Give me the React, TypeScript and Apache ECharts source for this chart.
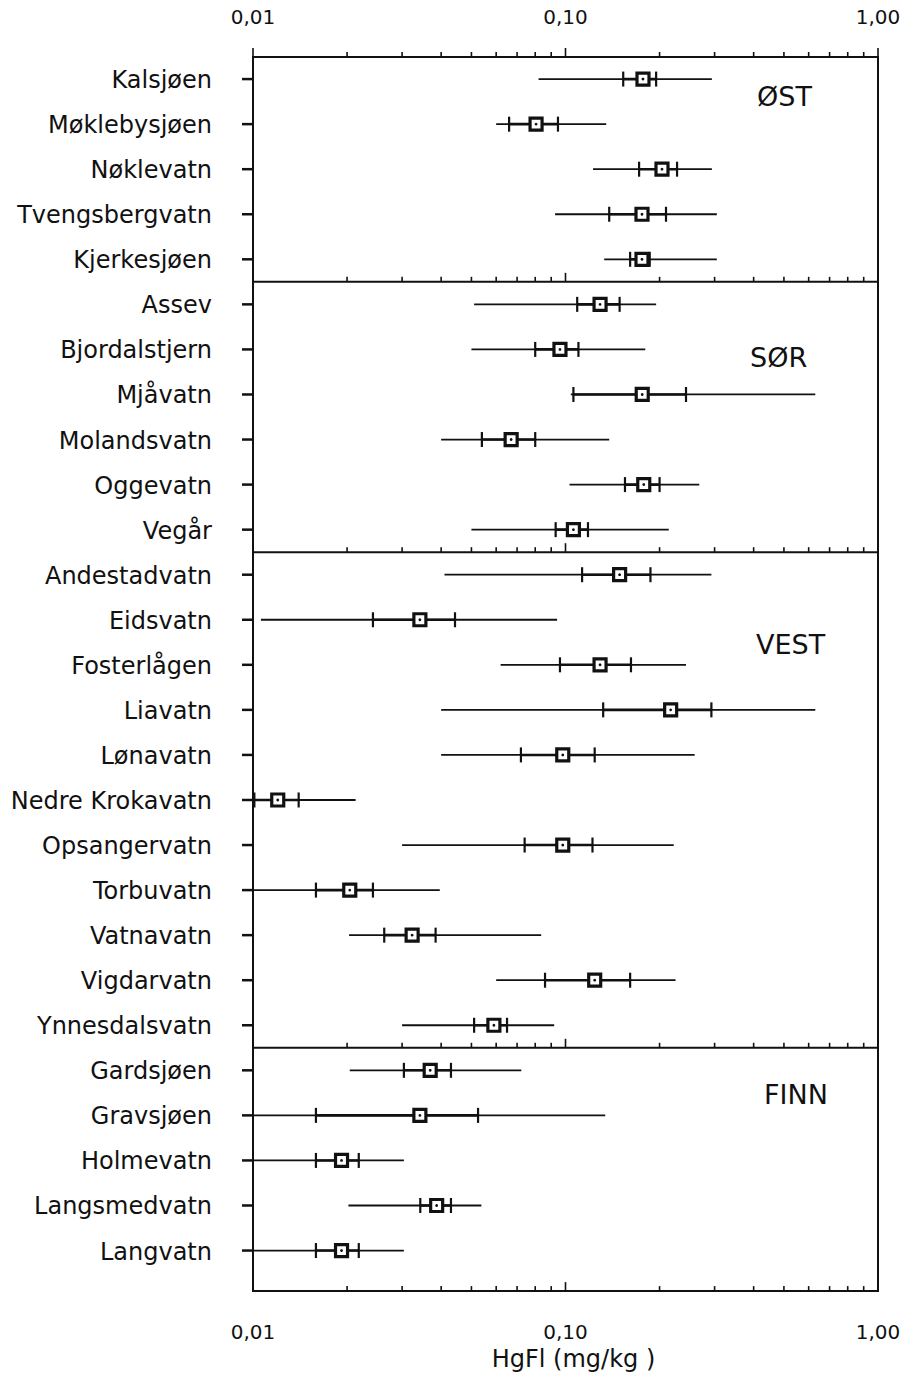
import React, { useEffect, useRef } from "react";
import * as echarts from "echarts";

// ---- data ----
const LAKES = [
  "Kalsjøen", "Møklebysjøen", "Nøklevatn", "Tvengsbergvatn", "Kjerkesjøen",
  "Assev", "Bjordalstjern", "Mjåvatn", "Molandsvatn", "Oggevatn", "Vegår",
  "Andestadvatn", "Eidsvatn", "Fosterlågen", "Liavatn", "Lønavatn", "Nedre Krokavatn",
  "Opsangervatn", "Torbuvatn", "Vatnavatn", "Vigdarvatn", "Ynnesdalsvatn",
  "Gardsjøen", "Gravsjøen", "Holmevatn", "Langsmedvatn", "Langvatn",
];
const MIN_VAL = [
  0.082, 0.060, 0.1225, 0.0926, 0.133,
  0.051, 0.050, 0.104, 0.040, 0.103, 0.050,
  0.041, 0.0106, 0.062, 0.040, 0.040, 0.0100, 0.030, 0.0100, 0.0203, 0.060, 0.030,
  0.0204, 0.0100, 0.0100, 0.0202, 0.0100,
];
const LOW_CI = [
  0.153, 0.066, 0.172, 0.138, 0.161,
  0.109, 0.080, 0.106, 0.054, 0.155, 0.093,
  0.113, 0.0242, 0.096, 0.132, 0.072, 0.0101, 0.074, 0.0159, 0.0263, 0.086, 0.051,
  0.0304, 0.0159, 0.0159, 0.0343, 0.0159,
];
const MEAN_VAL = [
  0.177, 0.0805, 0.2036, 0.1757, 0.1757,
  0.129, 0.096, 0.176, 0.067, 0.178, 0.106,
  0.149, 0.0342, 0.129, 0.217, 0.098, 0.0120, 0.098, 0.0204, 0.0323, 0.124, 0.059,
  0.0369, 0.0342, 0.0192, 0.0387, 0.0192,
];
const HIGH_CI = [
  0.195, 0.0946, 0.2275, 0.2097, 0.186,
  0.149, 0.110, 0.243, 0.080, 0.200, 0.118,
  0.187, 0.0443, 0.162, 0.293, 0.124, 0.0140, 0.122, 0.0242, 0.0384, 0.161, 0.065,
  0.0430, 0.0525, 0.0218, 0.0430, 0.0218,
];
const MAX_VAL = [
  0.294, 0.135, 0.294, 0.305, 0.305,
  0.195, 0.180, 0.63, 0.138, 0.268, 0.214,
  0.293, 0.094, 0.243, 0.63, 0.259, 0.0213, 0.222, 0.0396, 0.0836, 0.225, 0.092,
  0.0722, 0.134, 0.0304, 0.0538, 0.0304,
];
const GROUPS = ["ØST", "SØR", "VEST", "FINN"];
const GROUP_SIZES = [5, 6, 11, 5];
const AXIS_TICKS = [
  0.01, 0.02, 0.03, 0.04, 0.05, 0.06, 0.07, 0.08, 0.09,
  0.1, 0.2, 0.3, 0.4, 0.5, 0.6, 0.7, 0.8, 0.9, 1.0,
];
const MAJOR_TICKS = [0.01, 0.1, 1.0];
const X_MIN = 0.01;
const X_MAX = 1.0;
const Y_MIN = -0.49;
const Y_MAX = 26.9;

const FONT = "DejaVu Sans";
const INK = "#111";

export default function App() {
  const ref = useRef<HTMLDivElement>(null);

  useEffect(() => {
    if (!ref.current) return;
    const chart = echarts.init(ref.current, undefined, { renderer: "svg" });

    const rows = LAKES.map((name, i) => [i, MIN_VAL[i], LOW_CI[i], MEAN_VAL[i], HIGH_CI[i], MAX_VAL[i]]);

    // horizontal panel lines: top border, separators, bottom border
    const lineYs: number[] = [Y_MIN];
    let acc = 0;
    GROUP_SIZES.forEach((n, gi) => {
      acc += n;
      if (gi < GROUP_SIZES.length - 1) lineYs.push(acc - 0.5);
    });
    lineYs.push(Y_MAX);

    const groupLabelPos = [
      { x: 757, y: 97 },
      { x: 750, y: 358 },
      { x: 756, y: 645 },
      { x: 764, y: 1095 },
    ];

    const fmt = (v: number) => v.toFixed(2).replace(".", ",");

    const option: any = {
      animation: false,
      backgroundColor: "#fff",
      grid: {
        left: 253,
        right: 29,
        top: 57,
        bottom: 79,
        show: true,
        borderColor: INK,
        borderWidth: 2,
        backgroundColor: "transparent",
      },
      xAxis: [
        {
          type: "log",
          logBase: 10,
          min: X_MIN,
          max: X_MAX,
          position: "bottom",
          axisLine: { show: false },
          axisTick: { show: false },
          splitLine: { show: false },
          axisLabel: {
            formatter: fmt,
            margin: 31,
            fontSize: 20,
            fontFamily: FONT,
            color: INK,
          },
          name: "HgFl (mg/kg )",
          nameLocation: "middle",
          nameGap: 48,
          nameTextStyle: {
            fontSize: 24,
            fontFamily: FONT,
            color: INK,
            padding: [0, 0, 0, 16],
          },
        },
        {
          type: "log",
          logBase: 10,
          min: X_MIN,
          max: X_MAX,
          position: "top",
          axisLine: { show: false },
          axisTick: { show: false },
          splitLine: { show: false },
          axisLabel: {
            formatter: fmt,
            margin: 30,
            fontSize: 20,
            fontFamily: FONT,
            color: INK,
          },
        },
      ],
      yAxis: {
        type: "value",
        inverse: true,
        min: Y_MIN,
        max: Y_MAX,
        show: false,
      },
      graphic: GROUPS.map((g, i) => ({
        type: "text",
        left: groupLabelPos[i].x,
        top: groupLabelPos[i].y - 14,
        style: {
          text: g,
          fontSize: 27,
          fontFamily: FONT,
          fill: INK,
        },
      })),
      series: [
        {
          type: "custom",
          name: "panels",
          xAxisIndex: 0,
          yAxisIndex: 0,
          silent: true,
          data: lineYs.map((y) => [X_MIN, y]),
          encode: { x: 0, y: 1 },
          renderItem: (params: any, api: any) => {
            const y = api.value(1);
            const l = api.coord([X_MIN, y]);
            const r = api.coord([X_MAX, y]);
            const children: any[] = [
              {
                type: "line",
                shape: { x1: l[0], y1: l[1], x2: r[0], y2: r[1] },
                style: { stroke: INK, lineWidth: 2 },
              },
            ];
            AXIS_TICKS.forEach((t) => {
              const p = api.coord([t, y]);
              const len = MAJOR_TICKS.some((m) => Math.abs(m - t) < 1e-9) ? 9 : 5;
              children.push({
                type: "line",
                shape: { x1: p[0], y1: p[1], x2: p[0], y2: p[1] - len },
                style: { stroke: INK, lineWidth: 1.6 },
              });
            });
            return { type: "group", children };
          },
        },
        {
          type: "custom",
          name: "lakes",
          xAxisIndex: 0,
          yAxisIndex: 0,
          data: rows,
          encode: { y: 0, x: [1, 2, 3, 4, 5] },
          renderItem: (params: any, api: any) => {
            const i = api.value(0);
            const pMin = api.coord([api.value(1), i]);
            const pLo = api.coord([api.value(2), i]);
            const pMean = api.coord([api.value(3), i]);
            const pHi = api.coord([api.value(4), i]);
            const pMax = api.coord([api.value(5), i]);
            const axis = api.coord([X_MIN, i]);
            const y = pMean[1];
            const s = 12;
            return {
              type: "group",
              children: [
                {
                  type: "text",
                  style: {
                    text: LAKES[i],
                    x: axis[0] - 41,
                    y: y + 1,
                    align: "right",
                    verticalAlign: "middle",
                    fontSize: 24,
                    fontFamily: FONT,
                    fill: INK,
                  },
                },
                {
                  type: "line",
                  shape: { x1: axis[0] - 11, y1: y, x2: axis[0], y2: y },
                  style: { stroke: INK, lineWidth: 2.5 },
                },
                {
                  type: "line",
                  shape: { x1: pMin[0], y1: y, x2: pMax[0], y2: y },
                  style: { stroke: INK, lineWidth: 1.8 },
                },
                {
                  type: "line",
                  shape: { x1: pLo[0], y1: y, x2: pHi[0], y2: y },
                  style: { stroke: INK, lineWidth: 2.6 },
                },
                {
                  type: "line",
                  shape: { x1: pLo[0], y1: y - 7.5, x2: pLo[0], y2: y + 7.5 },
                  style: { stroke: INK, lineWidth: 2.2 },
                },
                {
                  type: "line",
                  shape: { x1: pHi[0], y1: y - 7.5, x2: pHi[0], y2: y + 7.5 },
                  style: { stroke: INK, lineWidth: 2.2 },
                },
                {
                  type: "rect",
                  shape: { x: pMean[0] - s / 2, y: y - s / 2, width: s, height: s },
                  style: { fill: "#fff", stroke: INK, lineWidth: 3.2 },
                },
                {
                  type: "circle",
                  shape: { cx: pMean[0], cy: y, r: 1.4 },
                  style: { fill: INK },
                },
              ],
            };
          },
        },
      ],
    };

    chart.setOption(option);
    return () => chart.dispose();
  }, []);

  return (
    <div
      ref={ref}
      style={{ position: "absolute", left: 0, top: 0, width: 907, height: 1376, background: "#fff" }}
    />
  );
}
